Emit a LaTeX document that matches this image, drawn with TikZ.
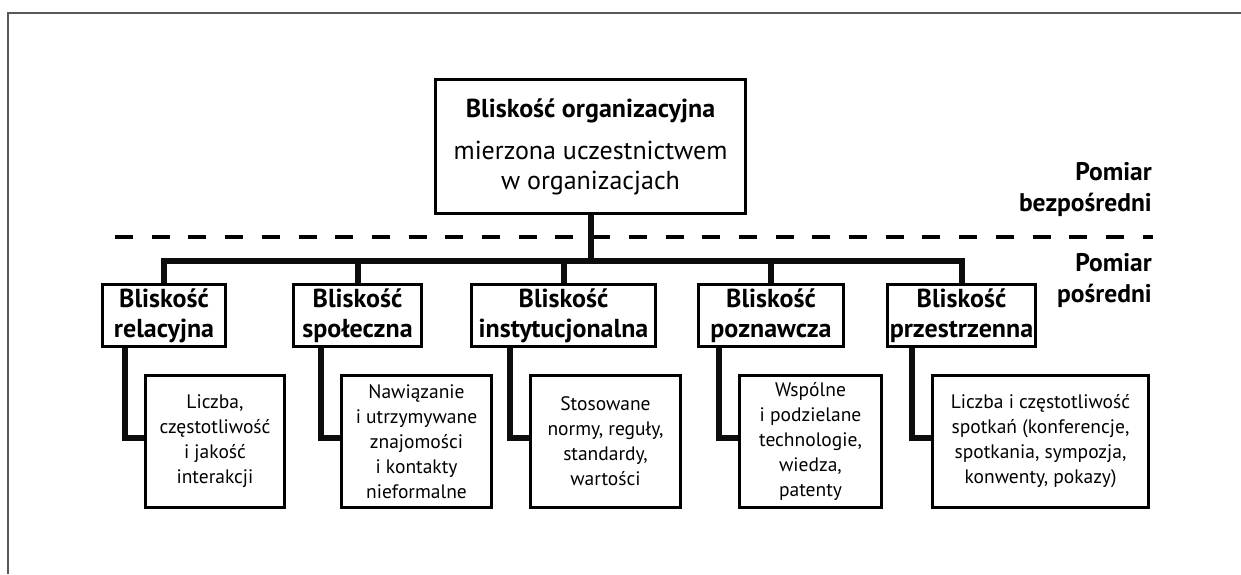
\documentclass[tikz,border=0pt]{standalone}
\usepackage{fontspec}
\setmainfont{PT Sans}
\usetikzlibrary{calc}
\tikzset{
	ramka/.style={draw=black!65, line width=2pt},
	kreski/.style={line width=3.5pt, dash pattern=on 18pt off 18.7pt},
	laczenie/.style={line width=6pt, color=black!95},
	glowny/.style={draw, line width=3pt, align=center, inner sep=0pt, font=\fontsize{26}{30}\selectfont, minimum width=310pt, minimum height=134pt},
	poziom/.style={draw, line width=3pt, align=center, inner sep=0pt, font=\fontsize{26}{30}\selectfont\bfseries, minimum height=62pt},
	opis/.style={draw, line width=3pt, align=center, inner sep=0pt, font=\fontsize{19.5}{25}\selectfont, minimum height=132pt},
	miara/.style={align=right, inner sep=0pt, font=\fontsize{25.5}{31}\selectfont\bfseries}
}

\begin{document}
\begin{tikzpicture}[x=1pt, y=-1pt]
			%%%%% START %%%%%
			\useasboundingbox (0,0) rectangle (1241,574);
			
			\draw[ramka] (1241,13) -- (8,13) -- (8,574);
			
			\draw[kreski] (115,237) -- (1153,237);
			\node[miara, anchor=east] (bezp) at (1152,189) {Pomiar\\bezpośredni};
			\node[miara, anchor=east] (posr) at (1152,280) {Pomiar\\pośredni};
			
			\node[glowny] (org) at (590.5,146.5) {\textbf{Bliskość organizacyjna}\\[12pt]mierzona uczestnictwem\\w organizacjach};
			
			\node[poziom, minimum width=123pt] (r1) at (164,315.5) {Bliskość\\relacyjna};
			\node[poziom, minimum width=128pt] (r2) at (357.5,315.5) {Bliskość\\społeczna};
			\node[poziom, minimum width=184pt] (r3) at (563.5,315.5) {Bliskość\\instytucjonalna};
			\node[poziom, minimum width=145pt] (r4) at (771,315.5) {Bliskość\\poznawcza};
			\node[poziom, minimum width=148pt] (r5) at (961.5,315.5) {Bliskość\\przestrzenna};
			
			\node[opis, minimum width=139pt] (d1) at (215,441.5) {Liczba,\\częstotliwość\\i jakość\\interakcji};
			\node[opis, minimum width=150pt] (d2) at (416.5,441.5) {Nawiązanie\\i utrzymywane\\znajomości\\i kontakty\\nieformalne};
			\node[opis, minimum width=150pt] (d3) at (605.5,441.5) {Stosowane\\normy, reguły,\\standardy,\\wartości};
			\node[opis, minimum width=142pt] (d4) at (810.5,441.5) {Wspólne\\i podzielane\\technologie,\\wiedza,\\patenty};
			\node[opis, minimum width=216pt] (d5) at (1040.5,441.5) {Liczba i częstotliwość\\spotkań (konferencje,\\spotkania, sympozja,\\konwenty, pokazy)};
			
			% szyna pod glownym
			\coordinate (szyna) at (0,261);
			\draw[laczenie] (org.south) -- (org.south |- szyna);
			\draw[laczenie] (r1.north) |- (r5.north |- szyna) -- (r5.north);
			\draw[laczenie] (r2.north) -- (r2.north |- szyna);
			\draw[laczenie] (r3.north) -- (r3.north |- szyna);
			\draw[laczenie] (r4.north) -- (r4.north |- szyna);
			
			% katowniki do opisow
			\foreach \i in {1,...,5}{
				\coordinate (k\i) at ($(d\i.west)+(-19,0)$);
				\draw[laczenie] (k\i |- r\i.south) |- ([yshift=4pt]d\i.west);
			}
			
			%%%%% END %%%%%
\end{tikzpicture}
\end{document}
